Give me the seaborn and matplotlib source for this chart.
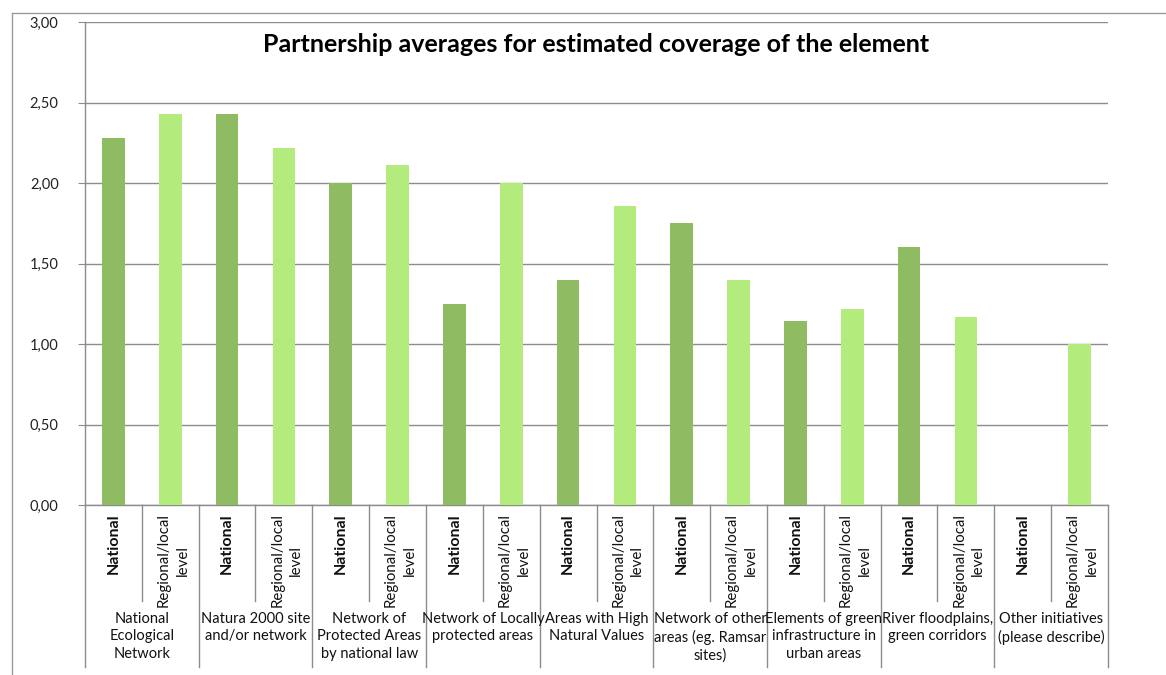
# %%
import matplotlib
matplotlib.use("Agg")
import matplotlib.pyplot as plt
import matplotlib.transforms as mtransforms
from matplotlib.lines import Line2D
import numpy as np
import pandas as pd
import seaborn as sns

# %%
groups = [
    "National\nEcological\nNetwork",
    "Natura 2000 site\nand/or network",
    "Network of\nProtected Areas\nby national law",
    "Network of Locally\nprotected areas",
    "Areas with High\nNatural Values",
    "Network of other\nareas (eg. Ramsar\nsites)",
    "Elements of green\ninfrastructure in\nurban areas",
    "River floodplains,\ngreen corridors",
    "Other initiatives\n(please describe)",
]
levels = ["National", "Regional/local\nlevel"]
national_vals = [2.28, 2.43, 2.00, 1.25, 1.40, 1.75, 1.14, 1.60, np.nan]
regional_vals = [2.43, 2.22, 2.11, 2.00, 1.86, 1.40, 1.22, 1.17, 1.00]
yticks = [0.0, 0.5, 1.0, 1.5, 2.0, 2.5, 3.0]
title = "Partnership averages for estimated coverage of the element"

col_slot = "Slot"
col_level = "Level"
col_val = "Coverage"

# %%
rows = []
for gi, grp in enumerate(groups):
    for level, vals in zip(levels, [national_vals, regional_vals]):
        rows.append({col_slot: f"{gi}-{level}", col_level: level, col_val: vals[gi]})
data = pd.DataFrame(rows)
slot_order = list(data[col_slot])

# %%
plt.rcParams["font.family"] = ["Lato", "DejaVu Sans"]
fig = plt.figure(figsize=(11.66, 6.75), dpi=100)
ax = fig.add_axes([85 / 1166, 1 - 505 / 675, (1108 - 85) / 1166, (505 - 22) / 675])

sns.barplot(
    data=data,
    x=col_slot,
    y=col_val,
    hue=col_level,
    order=slot_order,
    hue_order=levels,
    palette={levels[0]: "#8fbb62", levels[1]: "#b4eb7d"},
    saturation=1,
    dodge=False,
    width=0.4,
    errorbar=None,
    legend=False,
    linewidth=0,
    ax=ax,
    zorder=3,
)

ax.set_ylim(0, 3)
ax.set_xlim(-0.5, len(slot_order) - 0.5)
ax.set_yticks(yticks)
ax.set_yticklabels([f"{v:.2f}".replace(".", ",") for v in yticks], fontsize=10.5, color="#222222")
ax.yaxis.grid(True, color="#8c8c8c", linewidth=1.0, zorder=0)
ax.set_axisbelow(True)
ax.set_xticks([])
ax.set_xlabel("")
ax.set_ylabel("")
ax.tick_params(axis="y", length=5, color="#8c8c8c", pad=14)
for side in ["top", "right"]:
    ax.spines[side].set_visible(False)
for side in ["left", "bottom"]:
    ax.spines[side].set_color("#8c8c8c")
    ax.spines[side].set_linewidth(1.0)

ax.set_title(title, fontsize=18, fontweight="bold", y=0.92)

# %% category axis drawn below the plot
trans = mtransforms.blended_transform_factory(ax.transData, ax.transAxes)
h_ax = (505 - 22)
y_long = -(667 - 505) / h_ax
y_short = -(601 - 505) / h_ax
for i in range(len(slot_order) + 1):
    x = i - 0.5
    y_end = y_long if i % 2 == 0 else y_short
    ax.add_line(Line2D([x, x], [0, y_end], transform=trans, color="#8c8c8c",
                       linewidth=1.0, clip_on=False))

for i, slot in enumerate(slot_order):
    level = data[col_level].iloc[i]
    if level == levels[0]:
        ax.text(i, -(513 - 505) / h_ax, level, transform=trans, rotation=90,
                ha="center", va="top", fontsize=11.5, fontweight="bold", color="#111111")
    else:
        ax.text(i + 0.05, -(513 - 505) / h_ax, level, transform=trans, rotation=90,
                ha="center", va="top", multialignment="center", fontsize=10.8,
                color="#111111", linespacing=1.45)

for gi, grp in enumerate(groups):
    ax.text(gi * 2 + 0.5, -(612 - 505) / h_ax, grp, transform=trans,
            ha="center", va="top", multialignment="center", fontsize=10.5,
            color="#111111", linespacing=1.3)

# outer chart frame
fig.add_artist(Line2D([12 / 1166, 1.0], [1 - 13 / 675, 1 - 13 / 675], color="#9a9a9a", linewidth=1.0))
fig.add_artist(Line2D([12 / 1166, 12 / 1166], [1 - 13 / 675, 0.0], color="#9a9a9a", linewidth=1.0))

fig.savefig("out.png", dpi=100)
